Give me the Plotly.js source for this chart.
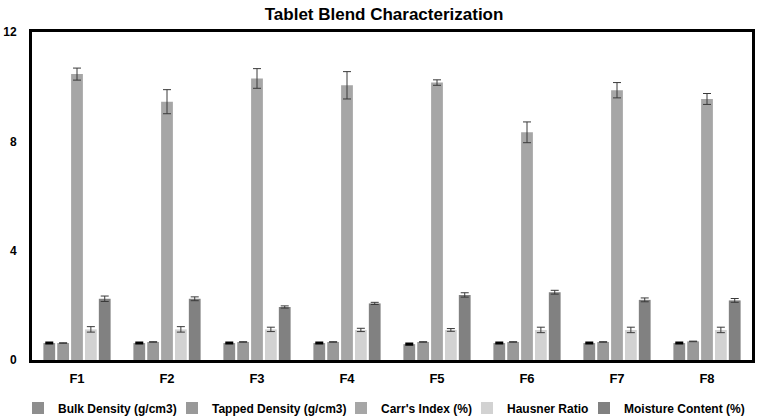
<!DOCTYPE html>
<html>
<head>
<meta charset="utf-8">
<script src="https://cdn.plot.ly/plotly-3.0.1.min.js"></script>
<style>
  html, body { margin: 0; padding: 0; background: #fff; }
  #chart { width: 762px; height: 417px; }
</style>
</head>
<body>
<div id="chart"></div>
<script>
// formulations
const formulations = ['F1', 'F2', 'F3', 'F4', 'F5', 'F6', 'F7', 'F8'];

// means
const bulkDensity = [0.62, 0.62, 0.62, 0.62, 0.58, 0.62, 0.62, 0.62];
const tappedDensity = [0.62, 0.66, 0.66, 0.66, 0.66, 0.66, 0.66, 0.68];
const carrsIndex = [10.46, 9.45, 10.3, 10.05, 10.15, 8.33, 9.87, 9.55];
const hausnerRatio = [1.12, 1.12, 1.12, 1.1, 1.1, 1.1, 1.1, 1.1];
const moistureContent = [2.24, 2.24, 1.94, 2.07, 2.38, 2.48, 2.2, 2.18];

// error bars (sd)
const bulkErr = [0.02, 0.02, 0.02, 0.02, 0.02, 0.02, 0.02, 0.02];
const tappedErr = [0.01, 0.01, 0.01, 0.01, 0.01, 0.01, 0.01, 0.01];
const carrsErr = [0.22, 0.44, 0.36, 0.5, 0.1, 0.38, 0.28, 0.2];
const hausnerErr = [0.1, 0.1, 0.08, 0.06, 0.05, 0.1, 0.1, 0.1];
const moistureErr = [0.1, 0.07, 0.04, 0.04, 0.08, 0.07, 0.07, 0.07];

const seriesNames = ['Bulk Density (g/cm3)', 'Tapped Density (g/cm3)', "Carr's Index (%)", 'Hausner Ratio', 'Moisture Content (%)'];
const seriesColors = ['#8e8e8e', '#999999', '#a6a6a6', '#d2d2d2', '#818181'];

const values = [bulkDensity, tappedDensity, carrsIndex, hausnerRatio, moistureContent];
const errors = [bulkErr, tappedErr, carrsErr, hausnerErr, moistureErr];

// one legend per series so the row can be spaced like the original
const legendIds = ['legend', 'legend2', 'legend3', 'legend4', 'legend5'];
const legendLeft = [18, 172, 341, 467, 584]; // px from the left edge

let data = values.map((vals, i) => ({
  type: 'bar',
  name: seriesNames[i],
  x: formulations,
  y: vals,
  legend: legendIds[i],
  marker: { color: seriesColors[i] },
  error_y: {
    type: 'data',
    array: errors[i],
    visible: true,
    color: i === 0 ? '#000000' : '#3a3a3a',
    thickness: i === 0 ? 2 : 1,
    width: 4
  }
}));

let fam = 'Liberation Sans, Arial, sans-serif';
let tickFont = { family: fam, color: '#000', size: 12, weight: 'bold' };
let legendFont = { family: fam, color: '#000', size: 12, weight: 'bold' };

let layout = {
  width: 762,
  height: 417,
  margin: { l: 32, r: 10, t: 32, b: 57, autoexpand: false },
  paper_bgcolor: '#fff',
  plot_bgcolor: '#fff',
  barmode: 'group',
  bargap: 0.23,
  bargroupgap: 0.15,
  showlegend: true,
  title: {
    text: '<b>Tablet Blend Characterization</b>',
    x: 0.504, xanchor: 'center', y: 0.967, yanchor: 'middle',
    font: { family: fam, size: 17, color: '#000' }
  },
  xaxis: {
    showline: true, mirror: true, linewidth: 3, linecolor: '#000',
    ticks: '', tickfont: { family: fam, color: '#000', size: 13, weight: 'bold' },
    ticklabelstandoff: 4, showgrid: false
  },
  yaxis: {
    range: [0, 12], tickvals: [0, 4, 8, 12],
    showline: true, mirror: true, linewidth: 3, linecolor: '#000',
    ticks: '', tickfont: tickFont, ticklabelstandoff: 10,
    showgrid: false, zeroline: false
  }
};

legendIds.forEach((id, i) => {
  layout[id] = {
    orientation: 'h',
    xref: 'container', yref: 'container',
    x: legendLeft[i] / 762, xanchor: 'left',
    y: 9 / 417, yanchor: 'middle',
    font: legendFont, itemwidth: 30,
    bgcolor: 'rgba(0,0,0,0)', borderwidth: 0
  };
});

Plotly.newPlot('chart', data, layout, { displayModeBar: false, staticPlot: true });
</script>
</body>
</html>
